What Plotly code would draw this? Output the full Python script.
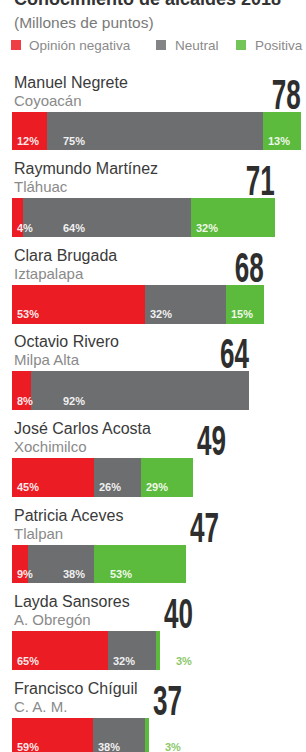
import plotly.graph_objects as go

# ---- data ----
names = ["Manuel Negrete", "Raymundo Martínez", "Clara Brugada", "Octavio Rivero",
         "José Carlos Acosta", "Patricia Aceves", "Layda Sansores", "Francisco Chíguil"]
alcaldias = ["Coyoacán", "Tláhuac", "Iztapalapa", "Milpa Alta",
             "Xochimilco", "Tlalpan", "A. Obregón", "C. A. M."]
totales = [78, 71, 68, 64, 49, 47, 40, 37]
negativa = [12, 4, 53, 8, 45, 9, 65, 59]
neutral = [75, 64, 32, 92, 26, 38, 32, 38]
positiva = [13, 32, 15, 0, 29, 53, 3, 3]

titulo = "Conocimiento de alcaldes 2018"
subtitulo = "(Millones de puntos)"
series_names = ["Opinión negativa", "Neutral", "Positiva"]
colors = ["#ec1c24", "#6d6e70", "#5cbb3c"]

W, H = 306, 752
n = len(names)
ys = list(range(n))

fig = go.Figure()
pcts = [negativa, neutral, positiva]
for name, col, p in zip(series_names, colors, pcts):
    fig.add_trace(go.Bar(
        y=ys, x=[t * v / 100 for t, v in zip(totales, p)],
        orientation="h", width=0.45, name=name,
        marker=dict(color=col, line=dict(width=0)),
        hoverinfo="skip", showlegend=False))

ann = []
FONT = "Liberation Sans, Arial, sans-serif"

for k in range(n):
    ann.append(dict(x=0, y=k, xref="x", yref="y", text=names[k], showarrow=False,
                    xanchor="left", yanchor="middle", yshift=49,
                    font=dict(family=FONT, size=16, color="#3a3a3a")))
    ann.append(dict(x=0, y=k, xref="x", yref="y", text=alcaldias[k], showarrow=False,
                    xanchor="left", yanchor="middle", yshift=31,
                    font=dict(family=FONT, size=15, color="#8a8a8a")))
    big = totales[k] >= 60
    ann.append(dict(x=totales[k], y=k, xref="x", yref="y", name="num",
                    text="<b>%d</b>" % totales[k],
                    showarrow=False, xanchor="right" if big else "left", yanchor="middle",
                    yshift=37, xshift=2,
                    font=dict(family=FONT, size=42, color="#2e2e2e")))
    # percentage labels
    start = 0.0
    prev = None
    for si, p in enumerate([negativa[k], neutral[k], positiva[k]]):
        seg = totales[k] * p / 100
        if p > 0:
            outside = (si == 2 and p < 5)
            if outside:
                lx = totales[k] + 3
                col = "#8cc86a"
            else:
                lx = start if prev is None else max(start, prev + 12.5)
                col = "rgba(255,255,255,0.92)"
            ann.append(dict(x=lx, y=k, xref="x", yref="y", text="<b>%d%%</b>" % p,
                            showarrow=False, xanchor="left", yanchor="middle",
                            xshift=3, yshift=-10,
                            font=dict(family=FONT, size=11, color=col)))
            prev = lx
        start += seg

# header
ann.append(dict(x=12 / W, y=1, xref="paper", yref="paper",
                text="<b>" + titulo + "</b>", showarrow=False, xanchor="left", yanchor="middle",
                yshift=1, font=dict(family=FONT, size=18, color="#333")))
ann.append(dict(x=12 / W, y=(H - 22) / H, xref="paper", yref="paper", text=subtitulo,
                showarrow=False, xanchor="left", yanchor="middle",
                font=dict(family=FONT, size=15.5, color="#7a7a7a")))

shapes = []
leg_sq = [11, 156, 236]
leg_tx = [27, 173, 253]
for sx, tx, nm, col in zip(leg_sq, leg_tx, series_names, colors):
    shapes.append(dict(type="rect", xref="paper", yref="paper",
                       x0=sx / W, x1=(sx + 10) / W, y0=(H - 50) / H, y1=(H - 40) / H,
                       fillcolor=col, line=dict(width=0), opacity=0.85))
    ann.append(dict(x=tx / W, y=(H - 45) / H, xref="paper", yref="paper", text=nm,
                    showarrow=False, xanchor="left", yanchor="middle",
                    font=dict(family=FONT, size=13.5, color="#8a8a8a")))

scale = 3.7
x0 = -12 / scale
x1 = (W - 12) / scale
bar0, step = 131, 86.6
y_top = -bar0 / step
y_bot = (H - bar0) / step

fig.update_layout(
    width=W, height=H, barmode="stack", bargap=0,
    margin=dict(l=0, r=0, t=0, b=0),
    paper_bgcolor="white", plot_bgcolor="white",
    xaxis=dict(range=[x0, x1], visible=False, fixedrange=True),
    yaxis=dict(range=[y_bot, y_top], visible=False, fixedrange=True),
    annotations=ann, shapes=shapes, showlegend=False,
)

post = """
document.body.style.margin='0';
var gd = document.getElementById('{plot_id}');
gd.querySelectorAll('g.annotation').forEach(function(g){
  var i = +g.getAttribute('data-index');
  var a = gd.layout.annotations[i];
  if (!a || a.name !== 'num') return;
  var t = g.querySelector('text.annotation-text');
  if (!t) return;
  var b = t.getBBox();
  var cx = a.xanchor === 'right' ? b.x + b.width : b.x;
  var prevT = t.getAttribute('transform') || '';
  t.setAttribute('transform', prevT + ' translate(' + cx + ',0) scale(0.62,1) translate(' + (-cx) + ',0)');
});
"""
fig.write_html("out.html", post_script=post, config={"displayModeBar": False})
